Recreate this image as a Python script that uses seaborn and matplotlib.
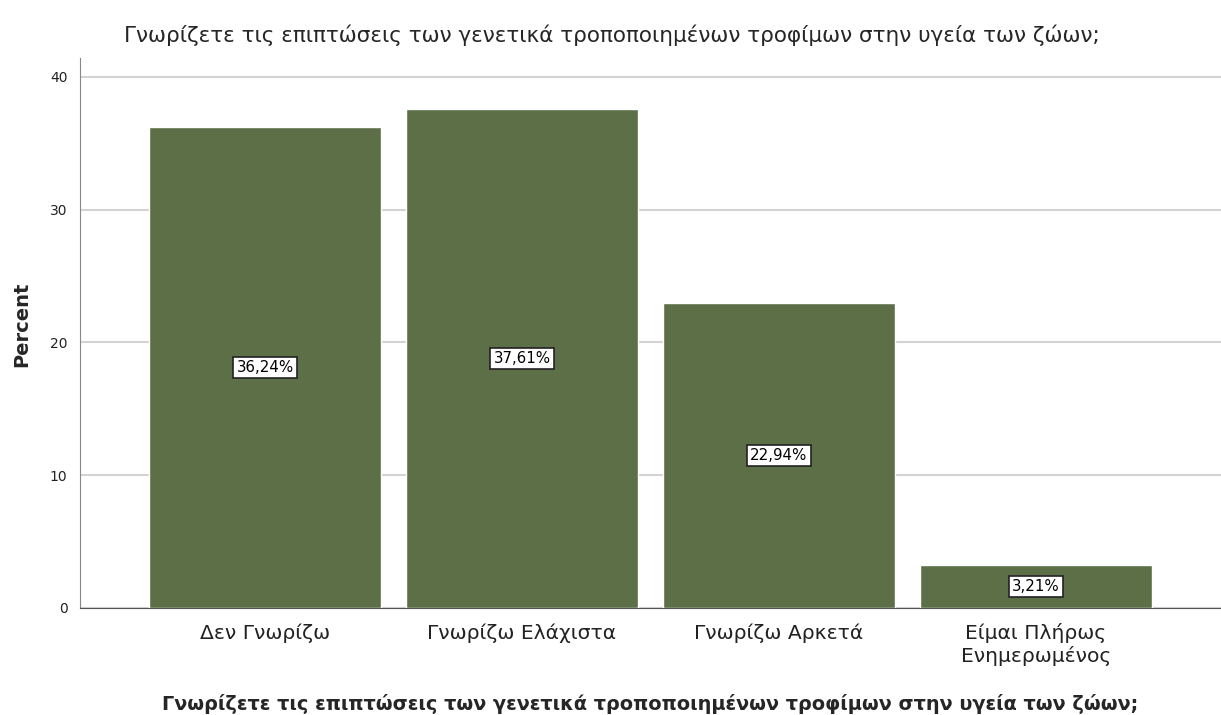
import seaborn as sns
import pandas as pd
import matplotlib.pyplot as plt

categories = ['Δεν Γνωρίζω', 'Γνωρίζω Ελάχιστα', 'Γνωρίζω Αρκετά', 'Είμαι Πλήρως\nΕνημερωμένος']
percent = [36.24, 37.61, 22.94, 3.21]
labels = ['36,24%', '37,61%', '22,94%', '3,21%']
question = 'Γνωρίζετε τις επιπτώσεις των γενετικά τροποποιημένων τροφίμων στην υγεία των ζώων;'

df = pd.DataFrame({'category': categories, 'percent': percent})

sns.set_style('white')
plt.rcParams['font.family'] = ['DejaVu Sans']

fig = plt.figure(figsize=(12.21, 7.15), dpi=100)
ax = fig.add_axes([0.0655, 0.1497, 0.9345, 0.7692])

sns.barplot(x='category', y='percent', data=df, ax=ax, color='#5d6f47',
            saturation=1, width=0.9, zorder=3)

# value labels in boxes at mid height
for i, (v, lab) in enumerate(zip(percent, labels)):
    ax.text(i, v / 2, lab, ha='center', va='center', fontsize=10.8, zorder=5,
            color='black',
            bbox=dict(boxstyle='square,pad=0.2', fc='white', ec='#222222', lw=1.2))

ax.set_ylim(0, 41.43)
ax.set_xlim(-0.72, 3.72)
ax.set_yticks([0, 10, 20, 30, 40])
ax.yaxis.grid(True, color='#d3d3d3', lw=1.5, zorder=0)
ax.tick_params(axis='y', length=4, color='#888888', labelsize=10, pad=5,
               labelcolor='#222222')
ax.tick_params(axis='x', length=0, labelsize=14.6, pad=11, labelcolor='#222222')

for s in ['top', 'right']:
    ax.spines[s].set_visible(False)
ax.spines['left'].set_color('#888888')
ax.spines['bottom'].set_color('#555555')

ax.set_ylabel('Percent', fontsize=14, fontweight='bold')
ax.yaxis.set_label_coords(-0.043, 0.515)
ax.set_xlabel(question, fontsize=13.9, fontweight='bold', labelpad=20)
fig.text(0.501, 0.951, question, ha='center', va='center', fontsize=15.5)

plt.savefig('out.png', dpi=100)
